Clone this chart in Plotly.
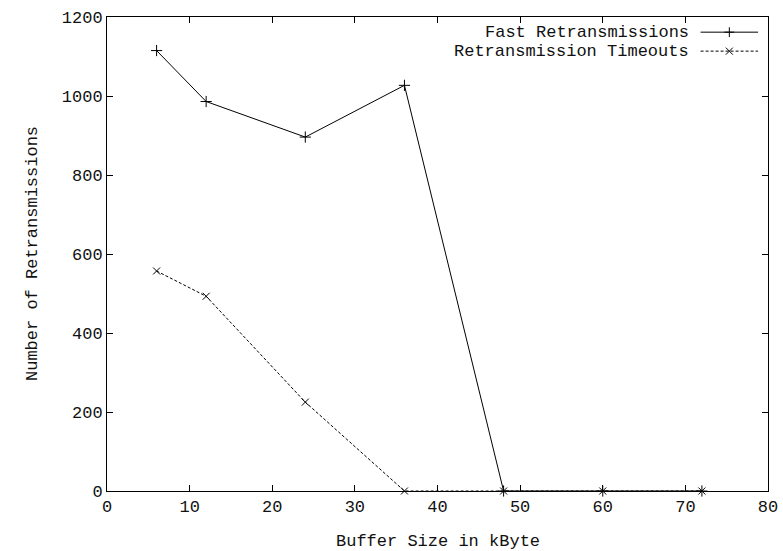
import plotly.graph_objects as go

buffer_kb = [6, 12, 24, 36, 48, 60, 72]
fast_retx = [1115, 986, 896, 1027, 0, 0, 0]
timeouts = [557, 493, 225, 0, 0, 0, 0]
names = ["Fast Retransmissions", "Retransmission Timeouts"]
x_title = "Buffer Size in kByte"
y_title = "Number of Retransmissions"

FONT = "Liberation Mono"
TXT = "#111"
fig = go.Figure()
fig.add_trace(go.Scatter(x=buffer_kb, y=fast_retx, mode="lines+markers", name=names[0],
                         line=dict(color="black", width=1),
                         marker=dict(symbol="cross-thin-open", size=8, color="black",
                                     line=dict(color="black", width=1)),
                         showlegend=False, cliponaxis=False))
fig.add_trace(go.Scatter(x=buffer_kb, y=timeouts, mode="lines+markers", name=names[1],
                         line=dict(color="black", width=1, dash="3px,2px"),
                         marker=dict(symbol="x-thin-open", size=7, color="black",
                                     line=dict(color="black", width=1)),
                         showlegend=False, cliponaxis=False))

# legend keys (gnuplot style: text left, sample right) on an overlay axis
key_y = [0.968, 0.928]
for i, (nm, dash, sym) in enumerate(zip(names, ["solid", "3px,2px"], ["cross-thin-open", "x-thin-open"])):
    fig.add_trace(go.Scatter(x=[0.898, 0.985], y=[key_y[i], key_y[i]], mode="lines",
                             line=dict(color="black", width=1, dash=dash),
                             xaxis="x2", yaxis="y2", showlegend=False, hoverinfo="skip"))
    fig.add_trace(go.Scatter(x=[0.9415], y=[key_y[i]], mode="markers",
                             marker=dict(symbol=sym, size=7, color="black",
                                         line=dict(color="black", width=1)),
                             xaxis="x2", yaxis="y2", showlegend=False, hoverinfo="skip"))
    fig.add_annotation(x=0.884, y=key_y[i], xref="x2", yref="y2", text=nm, showarrow=False,
                       xanchor="right", yanchor="middle",
                       font=dict(family=FONT, size=17, color=TXT))

fig.add_annotation(x=0.5, y=0, xref="paper", yref="paper", text=x_title, showarrow=False,
                   xanchor="center", yanchor="middle", yshift=-50,
                   font=dict(family=FONT, size=17, color=TXT))
fig.add_annotation(x=0, y=0.5, xref="paper", yref="paper", text=y_title, showarrow=False,
                   textangle=-90, xanchor="center", yanchor="middle", xshift=-75,
                   font=dict(family=FONT, size=17, color=TXT))

axis_common = dict(showline=True, linecolor="black", linewidth=1, mirror="ticks",
                   ticks="inside", ticklen=6, tickcolor="black", showgrid=False, zeroline=False,
                   automargin=False,
                   tickfont=dict(family=FONT, size=17, color=TXT))
fig.update_layout(
    width=783, height=551,
    margin=dict(l=107, r=15, t=17, b=60),
    paper_bgcolor="white", plot_bgcolor="white",
    xaxis=dict(range=[0, 80], tickvals=list(range(0, 81, 10)), **axis_common),
    yaxis=dict(range=[0, 1200], tickvals=list(range(0, 1201, 200)), **axis_common),
    xaxis2=dict(range=[0, 1], overlaying="x", visible=False, fixedrange=True),
    yaxis2=dict(range=[0, 1], overlaying="y", visible=False, fixedrange=True),
)
fig.update_xaxes(ticklabelstandoff=6, selector=dict(anchor="y"))
fig.update_yaxes(ticklabelstandoff=16, selector=dict(anchor="x"))

fig.write_html("out.html")
